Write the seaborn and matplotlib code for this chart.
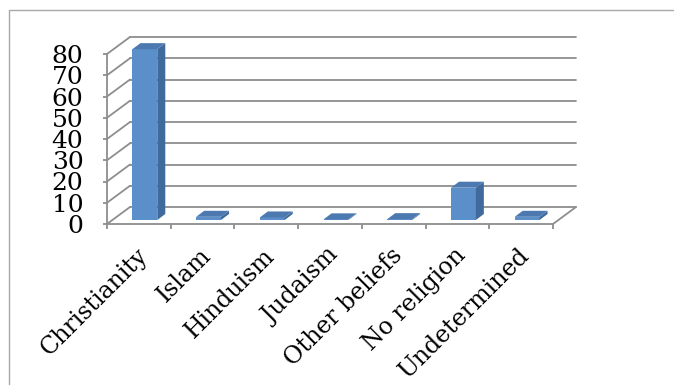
import numpy as np
import pandas as pd
import matplotlib
matplotlib.use("Agg")
import matplotlib.pyplot as plt
import matplotlib.transforms as mtransforms
from matplotlib.patches import Polygon
from matplotlib.lines import Line2D
import seaborn as sns

# ---- data ----
categories = ["Christianity", "Islam", "Hinduism", "Judaism",
              "Other beliefs", "No religion", "Undetermined"]
values = [80.4, 1.5, 1.2, 0.3, 0.4, 15.2, 1.5]
y_ticks = [0, 10, 20, 30, 40, 50, 60, 70, 80]

# ---- style ----
W, H, DPI = 674, 385, 100
sns.set_theme(style="white")
plt.rcParams['font.family'] = ['DejaVu Serif']

FRONT = "#5B8FC9"
SIDE = "#3F6A9B"
TOP = "#4C79B0"
GRID = "#8e8e8e"

# depth of the wall (pixels) and of the bars
DX, DY = 23, 17
BOX, BOY = 6, 4      # bar front-face offset behind the front plane
BDX, BDY = 8, 6      # bar depth

fig = plt.figure(figsize=(W / DPI, H / DPI), dpi=DPI)
fig.patch.set_facecolor("white")
# outer frame (top and left edges visible)
fig.add_artist(Line2D([9 / W, 9 / W, 1.05], [-0.05, (H - 10) / H, (H - 10) / H],
                      transform=fig.transFigure, color="#a8a8a8", lw=1.0,
                      solid_capstyle="butt"))

ax = fig.add_axes([107 / W, (H - 224) / H, 446 / W, 170 / H])
df = pd.DataFrame({"Religion": categories, "Percent": values})
sns.barplot(data=df, x="Religion", y="Percent", ax=ax, color=FRONT,
            saturation=1, width=0.39, edgecolor="none", zorder=5)
ax.set_xlim(-0.5, len(categories) - 0.5)
ax.set_ylim(0, 80)
ax.set_facecolor("none")
ax.set_xlabel("")
ax.set_ylabel("")
for s in ["top", "right"]:
    ax.spines[s].set_visible(False)
for s in ["left", "bottom"]:
    ax.spines[s].set_color(GRID)
    ax.spines[s].set_linewidth(1.3)

fig.canvas.draw()
inv = ax.transData.inverted()


def shifted(x, y, dx, dy):
    px, py = ax.transData.transform((x, y))
    return inv.transform((px + dx, py + dy))


x0, x1 = ax.get_xlim()
# back wall gridlines and side-wall diagonals
for t in y_ticks:
    a = shifted(x0, t, DX, DY)
    b = shifted(x1, t, DX, DY)
    c = shifted(x0, t, 0, 0)
    ax.add_line(Line2D([a[0], b[0]], [a[1], b[1]], color=GRID, lw=1.3,
                       clip_on=False, zorder=1))
    ax.add_line(Line2D([c[0], a[0]], [c[1], a[1]], color=GRID, lw=1.3,
                       clip_on=False, zorder=1))
# right floor edge
b = shifted(x1, 0, DX, DY)
ax.add_line(Line2D([x1, b[0]], [0, b[1]], color=GRID, lw=1.3,
                   clip_on=False, zorder=1))

# 3D bars: shift the front face, add side and top faces
off = mtransforms.offset_copy(ax.transData, fig=fig, x=BOX, y=BOY, units="dots")
for p in list(ax.patches):
    if not hasattr(p, "get_x"):
        continue
    bx, bw, bh = p.get_x(), p.get_width(), p.get_height()
    p.set_transform(off)
    p.set_clip_on(False)
    tl = shifted(bx, bh, BOX, BOY)
    tr = shifted(bx + bw, bh, BOX, BOY)
    fr = shifted(bx + bw, 0, BOX, BOY)
    trb = shifted(bx + bw, bh, BOX + BDX, BOY + BDY)
    tlb = shifted(bx, bh, BOX + BDX, BOY + BDY)
    frb = shifted(bx + bw, 0, BOX + BDX, BOY + BDY)
    ax.add_patch(Polygon([fr, tr, trb, frb], closed=True, facecolor=SIDE,
                         edgecolor="none", clip_on=False, zorder=5))
    ax.add_patch(Polygon([tl, tr, trb, tlb], closed=True, facecolor=TOP,
                         edgecolor="none", clip_on=False, zorder=6))

# ticks
ax.set_yticks(y_ticks)
ax.set_yticklabels([str(t) for t in y_ticks])
ax.tick_params(axis="y", which="major", left=True, length=3, width=1.3,
               color=GRID, pad=14, labelsize=18, labelcolor="black")
ax.set_xticks(np.arange(-0.5, len(categories), 1.0), minor=True)
ax.tick_params(axis="x", which="minor", bottom=True, length=3.5, width=1.3,
               color=GRID)
ax.set_xticks(range(len(categories)))
ax.set_xticklabels(categories, rotation=45, ha="right", va="top",
                   rotation_mode="anchor")
ax.tick_params(axis="x", which="major", bottom=False, length=0, pad=0,
               labelsize=17, labelcolor="black")
shift = mtransforms.ScaledTranslation(-3 / DPI, -20 / DPI, fig.dpi_scale_trans)
for lab in ax.get_xticklabels():
    lab.set_transform(lab.get_transform() + shift)

fig.savefig("out.png", dpi=DPI, facecolor="white")
